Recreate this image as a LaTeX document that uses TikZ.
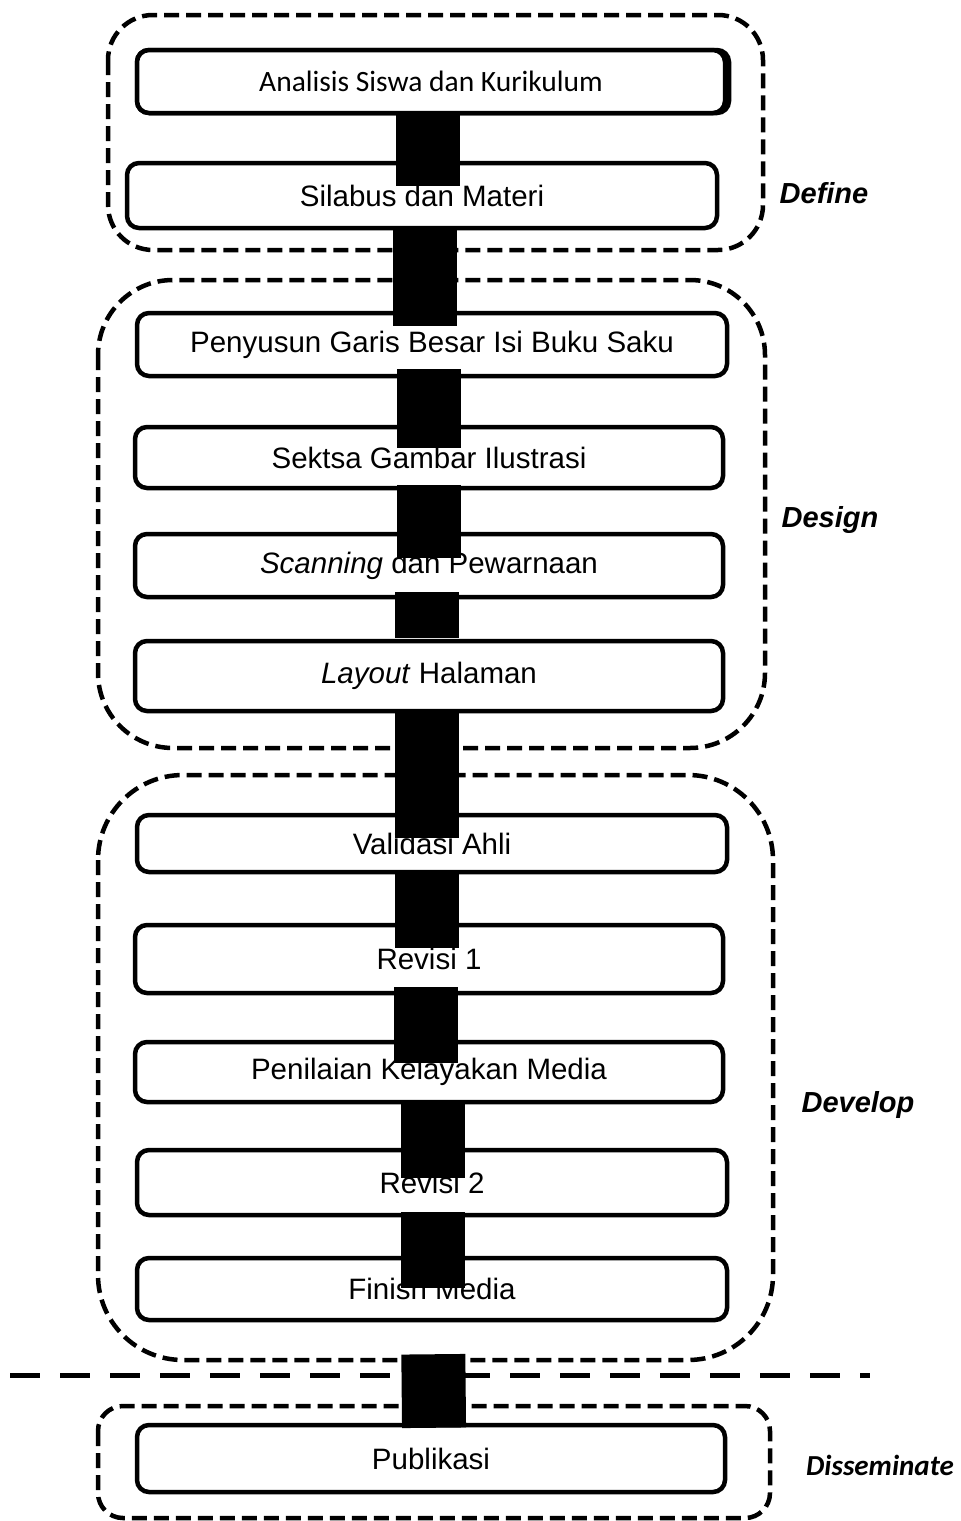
\documentclass[tikz,border=0pt]{standalone}
\usepackage{fontspec}
\setmainfont{Liberation Sans}
\newfontfamily\calibfont{Carlito}
\usetikzlibrary{positioning}

\tikzset{
  stepbox/.style={draw, line width=4.5pt, rounded corners=12pt, fill=white, inner sep=0pt, font=\fontsize{29.5}{36}\selectfont},
  phase/.style={draw, line width=4.5pt, dash pattern=on 15pt off 7pt},
  phaselabel/.style={font=\fontsize{29}{34}\selectfont\bfseries\itshape},
  link/.style={line width=64pt},
  sepline/.style={line width=5pt, dash pattern=on 30pt off 20pt}
}

\begin{document}
\begin{tikzpicture}[x=1pt, y=-1pt]
            \useasboundingbox (0,0) rectangle (961,1521);
            \draw[phase, rounded corners=45pt] (108,15) rectangle (763,250);
            \draw[phase, rounded corners=75pt] (98,280) rectangle (765,748);
            \draw[phase, rounded corners=85pt] (98,775) rectangle (773,1360);
            \draw[phase, rounded corners=25pt] (98,1406) rectangle (770,1518);
            \draw[sepline] (10,1375) -- (870,1375);
            \draw[line width=4.5pt, rounded corners=12pt] (137,50) rectangle (729,113);
            \node[stepbox, minimum width=588pt, minimum height=63pt, font=\fontsize{29.5}{36}\selectfont\calibfont] (a1) at (431,81.5) {Analisis Siswa dan Kurikulum};
            \node[stepbox, minimum width=590pt, minimum height=65pt] (a2) at (422,195.5) {Silabus dan Materi};
            \node[stepbox, minimum width=590pt, minimum height=63pt] (b1) at (432,344.5) {Penyusun Garis Besar Isi Buku Saku};
            \node[stepbox, minimum width=588pt, minimum height=61pt] (b2) at (429,457.5) {Sektsa Gambar Ilustrasi};
            \node[stepbox, minimum width=588pt, minimum height=63pt] (b3) at (429,565.5) {\textit{Scanning} dan Pewarnaan};
            \node[stepbox, minimum width=588pt, minimum height=70pt] (b4) at (429,676) {\textit{Layout} Halaman};
            \node[stepbox, minimum width=590pt, minimum height=57pt] (c1) at (432,843.5) {Validasi Ahli};
            \node[stepbox, minimum width=588pt, minimum height=68pt] (c2) at (429,959) {Revisi 1};
            \node[stepbox, minimum width=588pt, minimum height=60pt] (c3) at (429,1072) {Penilaian Kelayakan Media};
            \node[stepbox, minimum width=590pt, minimum height=65pt] (c4) at (432,1182.5) {Revisi 2};
            \node[stepbox, minimum width=590pt, minimum height=62pt] (c5) at (432,1289) {Finish Media};
            \node[stepbox, minimum width=588pt, minimum height=67pt] (d1) at (431,1458.5) {Publikasi};
            \draw[link, shorten >=-25pt] ([xshift=-3pt]a1.south) -- ([xshift=6pt]a2.north);
            \draw[link, shorten <=-2pt, shorten >=-15pt] ([xshift=3pt]a2.south) -- ([xshift=-7pt]b1.north);
            \draw[link, shorten <=-9pt, shorten >=-23pt] ([xshift=-3pt]b1.south) -- (b2.north);
            \draw[link, shorten <=-5pt, shorten >=-26pt] (b2.south) -- (b3.north);
            \draw[link, shorten <=-7pt, shorten >=1pt] ([xshift=-2pt]b3.south) -- ([xshift=-2pt]b4.north);
            \draw[link, shorten <=-4pt, shorten >=-25pt] ([xshift=-2pt]b4.south) -- ([xshift=-5pt]c1.north);
            \draw[link, shorten >=-25pt] ([xshift=-5pt]c1.south) -- ([xshift=-2pt]c2.north);
            \draw[link, shorten <=-8pt, shorten >=-23pt] ([xshift=-3pt]c2.south) -- ([xshift=-3pt]c3.north);
            \draw[link, shorten <=-4pt, shorten >=-30pt] ([xshift=4pt]c3.south) -- ([xshift=1pt]c4.north);
            \draw[link, shorten <=-5pt, shorten >=-32pt] ([xshift=1pt]c4.south) -- ([xshift=1pt]c5.north);
            \draw[link, shorten <=32pt, shorten >=-5pt] ([xshift=1pt]c5.south) -- ([xshift=3pt]d1.north);
            \node[phaselabel] (l1) at (824,193) {Define};
            \node[phaselabel] (l2) at (830,520) {Design};
            \node[phaselabel] (l3) at (858,1105) {Develop};
            \node[phaselabel, font=\fontsize{29}{34}\selectfont\calibfont\bfseries\itshape] (l4) at (880,1465) {Disseminate};
        \end{tikzpicture}
\end{document}
